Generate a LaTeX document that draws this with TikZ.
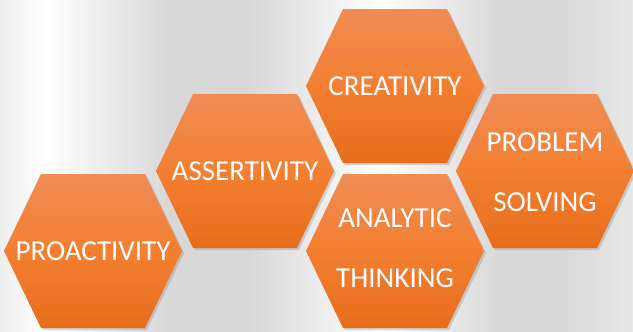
\documentclass[tikz,border=0pt]{standalone}
\usepackage{fontspec}
\setmainfont{Carlito}
\usetikzlibrary{shadows}

\definecolor{hextop}{HTML}{F08C55}
\definecolor{hexmid}{HTML}{F47F31}
\definecolor{hexbottom}{HTML}{E76D1C}
\definecolor{steel}{HTML}{D8D8D8}
\definecolor{steellight}{HTML}{EEEEEE}
\definecolor{steelmid}{HTML}{E8E8E8}

\begin{document}
\begin{tikzpicture}[x=1pt,y=-1pt,
    hexagon/.style={top color=hextop,bottom color=hexbottom,middle color=hexmid,draw=none,
      drop shadow={opacity=0.3,shadow xshift=2pt,shadow yshift=-2pt}},
    skill/.style={text=white,align=center,font=\fontsize{29}{60}\selectfont}]
        \useasboundingbox (0,0) rectangle (633,332);
        % steel backdrop
        \foreach \xa/\xb/\ca/\cb in {0/45/steellight/white, 45/170/white/steel, 170/250/steel/steel, 250/380/steel/white, 380/500/white/steel, 500/560/steel/steel, 560/633/steel/steelmid}
        \shade[left color=\ca,right color=\cb] (\xa-0.5,0) rectangle (\xb+0.5,332);
        % hexagons
        \foreach \cx/\cy/\ty/\nm/\txt in {93/251/251/proactivity/PROACTIVITY, 245/171/171/assertivity/ASSERTIVITY, 395/86/86/creativity/CREATIVITY, 395/251/248/analytic/{ANALYTIC\\THINKING}, 545/171/172/problem/{PROBLEM\\SOLVING}}{
        \path[hexagon] (\cx-89,\cy) -- ++(37,-77) -- ++(104,0) -- ++(37,77) -- ++(-37,77) -- ++(-104,0) -- cycle;
        \node[skill] (\nm) at (\cx,\ty) {\txt};
        }
                \end{tikzpicture}
\end{document}
